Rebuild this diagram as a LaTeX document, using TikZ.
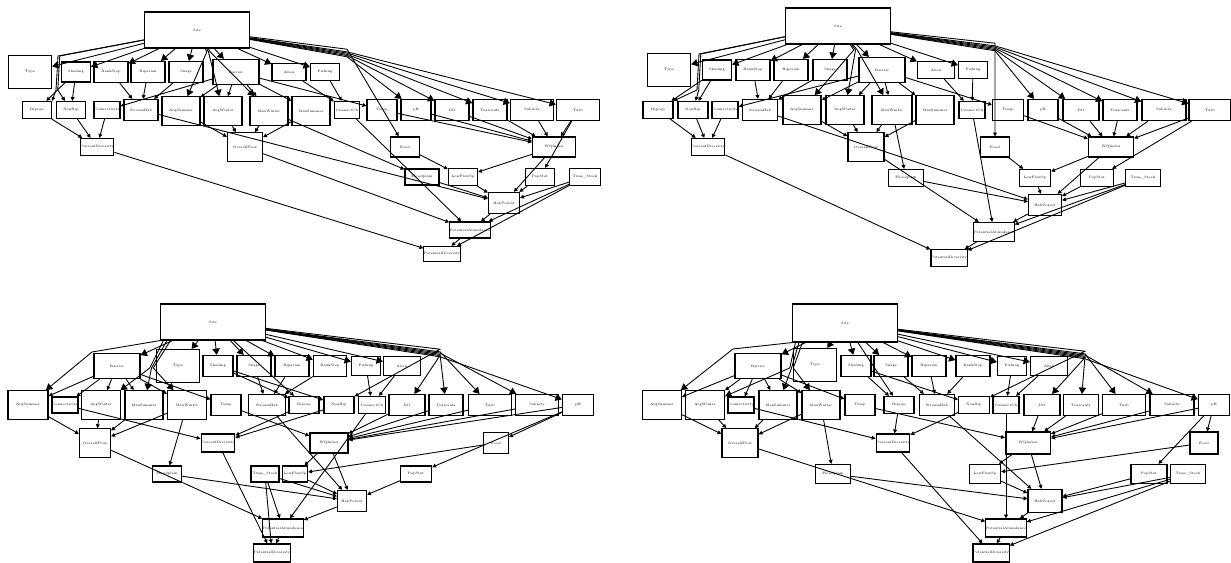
\documentclass[tikz,border=0pt]{standalone}
\usepackage{fontspec}
\usepackage{tikz}
\usetikzlibrary{arrows.meta}
\tikzset{
	var/.style     = {shape=rectangle, draw, line width=0.7pt,
		anchor=center, inner sep=0pt, align=center,
		font=\fontsize{1.9}{2.2}\selectfont,
		minimum width=0.68cm, minimum height=0.42cm},
	small/.style   = {var, minimum width=0.58cm, minimum height=0.34cm},
	flow/.style    = {var, minimum width=0.76cm, minimum height=0.57cm},
	wide/.style    = {var, minimum width=0.86cm},
	root/.style    = {var, minimum width=2.1cm, minimum height=0.72cm},
	typebox/.style = {var, minimum width=0.86cm, minimum height=0.66cm},
	barrier/.style = {var, minimum width=0.92cm, minimum height=0.5cm},
	edge/.style    = {line width=0.5pt, -{Triangle[length=2.2pt,width=2.2pt]}},
	sedge/.style   = {edge, -{Triangle[length=3.6pt,width=4.2pt]}}
}

\begin{document}
\begin{tikzpicture}[x=0.02cm, y=-0.02cm]
	\useasboundingbox (0,0) rectangle (1231,563);

	% top left layout
	\node [root]    at (197,30)  (tl-site) {Site};
	\node [typebox] at (30,72)   (tl-type) {Type};
	\node [small, minimum height=0.4cm] at (76,72) (tl-shading) {Shading};
	\node [var]     at (111,72)  (tl-bankstep) {BankStep};
	\node [var]     at (148,72)  (tl-riparian) {Riparian};
	\node [var]     at (186,72)  (tl-snags) {Snags};
	\node [barrier] at (236,72)  (tl-barrier) {Barrier};
	\node [var, minimum height=0.34cm] at (289,72) (tl-alien) {Alien};
	\node [small]   at (325,72)  (tl-fishing) {Fishing};
	\node [small]   at (37,110)  (tl-riprap) {Riprap};
	\node [small]   at (71,110)  (tl-nonrip) {NonRip};
	\node [small, minimum width=0.52cm] at (107,110) (tl-connectivity) {Connectivity};
	\node [var]     at (141,110) (tl-streamhab) {StreamHab};
	\node [flow]    at (181,111) (tl-avgsummer) {AvgSummer};
	\node [flow]    at (223,111) (tl-avgwinter) {AvgWinter};
	\node [flow]    at (269,111) (tl-maxwinter) {MaxWinter};
	\node [flow]    at (311,111) (tl-maxsummer) {MaxSummer};
	\node [small, minimum width=0.5cm] at (347,110) (tl-connectch) {ConnectCh};
	\node [var, minimum width=0.6cm] at (382,110) (tl-temp) {Temp};
	\node [var, minimum width=0.6cm] at (416,110) (tl-ph) {pH};
	\node [var]     at (452,110) (tl-do) {DO};
	\node [var]     at (490,110) (tl-toxicants) {Toxicants};
	\node [wide]    at (532,110) (tl-salinity) {Salinity};
	\node [wide]    at (578,110) (tl-turb) {Turb};
	\node [small, minimum width=0.54cm] at (97,147) (tl-currentdiv) {CurrentDiversity};
	\node [flow, minimum width=0.7cm] at (245,147) (tl-overallflow) {OverallFlow};
	\node [small, minimum height=0.4cm] at (405,147) (tl-food) {Food};
	\node [wide, minimum height=0.4cm] at (554,147) (tl-wqindex) {WQIndex};
	\node [var, minimum height=0.32cm] at (422,177) (tl-floodplain) {Floodplain};
	\node [small]   at (463,177) (tl-lowflow) {LowFlowSp};
	\node [small]   at (540,177) (tl-popstat) {PopStat};
	\node [small, minimum width=0.62cm] at (585,177) (tl-timestock) {Time\_Stock};
	\node [var, minimum width=0.62cm] at (504,203) (tl-habpotent) {HabPotent};
	\node [var, minimum width=0.78cm, minimum height=0.32cm] at (470,230) (tl-potabund) {PotentialAbundance};
	\node [small, minimum width=0.56cm, minimum height=0.3cm] at (442,254) (tl-potdiv) {PotentialDiversity};
	\coordinate (tl-rfan) at (347,58);
	\coordinate (tl-mfan) at (205,52);
	\coordinate (tl-lfan) at (58,56);
	\coordinate (tl-lfanb) at (56,90);

	% top right layout
	\node [root]    at (838,26)  (tr-site) {Site};
	\node [typebox] at (669,70)  (tr-type) {Type};
	\node [small, minimum height=0.4cm] at (717,70) (tr-shading) {Shading};
	\node [var]     at (753,70)  (tr-bankstep) {BankStep};
	\node [var]     at (791,70)  (tr-riparian) {Riparian};
	\node [var]     at (830,70)  (tr-snags) {Snags};
	\node [barrier] at (882,70)  (tr-barrier) {Barrier};
	\node [var, minimum width=0.74cm, minimum height=0.34cm] at (936,70) (tr-alien) {Alien};
	\node [small]   at (973,70)  (tr-fishing) {Fishing};
	\node [small, minimum width=0.6cm] at (658,110) (tr-riprap) {Riprap};
	\node [small, minimum width=0.6cm] at (693,110) (tr-nonrip) {NonRip};
	\node [small, minimum width=0.52cm] at (725,110) (tr-connectivity) {Connectivity};
	\node [var, minimum width=0.7cm] at (760,110) (tr-streamhab) {StreamHab};
	\node [flow]    at (802,110) (tr-avgsummer) {AvgSummer};
	\node [flow]    at (845,110) (tr-avgwinter) {AvgWinter};
	\node [flow, minimum width=0.8cm] at (892,110) (tr-maxwinter) {MaxWinter};
	\node [flow]    at (935,110) (tr-maxsummer) {MaxSummer};
	\node [small, minimum width=0.52cm] at (972,110) (tr-connectch) {ConnectCh};
	\node [var, minimum width=0.62cm] at (1008,110) (tr-temp) {Temp};
	\node [var, minimum width=0.6cm] at (1043,110) (tr-ph) {pH};
	\node [var, minimum width=0.72cm] at (1081,110) (tr-do) {DO};
	\node [var]     at (1120,110) (tr-toxicants) {Toxicants};
	\node [wide, minimum width=0.88cm] at (1164,110) (tr-salinity) {Salinity};
	\node [wide, minimum width=0.84cm] at (1210,110) (tr-turb) {Turb};
	\node [small]   at (708,147) (tr-currentdiv) {CurrentDiversity};
	\node [flow, minimum width=0.72cm] at (866,147) (tr-overallflow) {OverallFlow};
	\node [small, minimum height=0.4cm] at (995,147) (tr-food) {Food};
	\node [wide, minimum width=0.9cm, minimum height=0.4cm] at (1111,147) (tr-wqindex) {WQIndex};
	\node [var, minimum width=0.7cm, minimum height=0.34cm] at (906,178) (tr-floodplain) {Floodplain};
	\node [small, minimum width=0.62cm] at (1035,178) (tr-lowflow) {LowFlowSp};
	\node [small, minimum width=0.66cm] at (1097,178) (tr-popstat) {PopStat};
	\node [small, minimum width=0.7cm] at (1143,178) (tr-timestock) {Time\_Stock};
	\node [var, minimum width=0.66cm] at (1045,205) (tr-habpotent) {HabPotent};
	\node [var, minimum width=0.76cm, minimum height=0.38cm] at (994,232) (tr-potabund) {PotentialAbundance};
	\node [small]   at (949,258) (tr-potdiv) {PotentialDiversity};
	\coordinate (tr-rfan) at (995,52);
	\coordinate (tr-mfan) at (852,50);
	\coordinate (tr-lfan) at (699,54);
	\coordinate (tr-lfanb) at (697,90);

	% bottom left layout
	\node [root]    at (213,322) (bl-site) {Site};
	\node [barrier] at (117,366) (bl-barrier) {Barrier};
	\node [typebox] at (178,366) (bl-type) {Type};
	\node [small, minimum width=0.6cm, minimum height=0.42cm] at (218,366) (bl-shading) {Shading};
	\node [var]     at (254,366) (bl-snags) {Snags};
	\node [var]     at (292,366) (bl-riparian) {Riparian};
	\node [var, minimum width=0.66cm] at (330,366) (bl-bankstep) {BankStep};
	\node [small, minimum height=0.38cm] at (366,366) (bl-fishing) {Fishing};
	\node [var, minimum width=0.74cm, minimum height=0.38cm] at (402,366) (bl-alien) {Alien};
	\node [flow, minimum width=0.8cm] at (28,405) (bl-avgsummer) {AvgSummer};
	\node [small, minimum width=0.52cm, minimum height=0.32cm] at (65,405) (bl-connectivity) {Connectivity};
	\node [flow, minimum width=0.78cm] at (101,405) (bl-avgwinter) {AvgWinter};
	\node [flow]    at (144,405) (bl-maxsummer) {MaxSummer};
	\node [flow, minimum width=0.78cm] at (187,405) (bl-maxwinter) {MaxWinter};
	\node [var, minimum width=0.6cm] at (226,405) (bl-temp) {Temp};
	\node [var, minimum width=0.74cm] at (267,405) (bl-streamhab) {StreamHab};
	\node [small, minimum width=0.6cm] at (304,405) (bl-riprap) {Riprap};
	\node [small, minimum width=0.6cm] at (339,405) (bl-nonrip) {NonRip};
	\node [small, minimum width=0.54cm] at (372,405) (bl-connectch) {ConnectCh};
	\node [var, minimum width=0.72cm] at (407,405) (bl-do) {DO};
	\node [var]     at (446,405) (bl-toxicants) {Toxicants};
	\node [wide]    at (490,405) (bl-turb) {Turb};
	\node [wide]    at (537,405) (bl-salinity) {Salinity};
	\node [var, minimum width=0.62cm] at (578,405) (bl-ph) {pH};
	\node [flow, minimum width=0.62cm] at (95,443) (bl-overallflow) {OverallFlow};
	\node [small, minimum width=0.5cm, minimum height=0.36cm] at (218,443) (bl-currentdiv) {CurrentDiversity};
	\node [wide, minimum width=0.76cm, minimum height=0.4cm] at (329,443) (bl-wqindex) {WQIndex};
	\node [small, minimum width=0.5cm, minimum height=0.42cm] at (496,443) (bl-food) {Food};
	\node [small, minimum height=0.32cm] at (167,474) (bl-floodplain) {Floodplain};
	\node [small, minimum width=0.56cm, minimum height=0.32cm] at (265,474) (bl-timestock) {Time\_Stock};
	\node [small, minimum width=0.5cm, minimum height=0.32cm] at (295,474) (bl-lowflow) {LowFlowSp};
	\node [small, minimum width=0.62cm, minimum height=0.32cm] at (416,474) (bl-popstat) {PopStat};
	\node [var, minimum width=0.58cm] at (352,501) (bl-habpotent) {HabPotent};
	\node [small, minimum width=0.62cm, minimum height=0.36cm] at (283,528) (bl-potabund) {PotentialAbundance};
	\node [small, minimum width=0.48cm, minimum height=0.36cm] at (272,553) (bl-potdiv) {PotentialDiversity};
	\coordinate (bl-rfan) at (440,358);
	\coordinate (bl-mfan) at (148,368);
	\coordinate (bl-lfan) at (92,352);

	% bottom right layout
	\node [root, minimum height=0.76cm] at (845,323) (br-site) {Site};
	\node [barrier] at (758,366) (br-barrier) {Barrier};
	\node [typebox] at (815,365) (br-type) {Type};
	\node [small, minimum width=0.6cm, minimum height=0.42cm] at (856,366) (br-shading) {Shading};
	\node [var]     at (891,366) (br-snags) {Snags};
	\node [var]     at (929,366) (br-riparian) {Riparian};
	\node [var]     at (973,366) (br-bankstep) {BankStep};
	\node [small, minimum height=0.38cm] at (1012,366) (br-fishing) {Fishing};
	\node [var, minimum width=0.74cm, minimum height=0.38cm] at (1049,366) (br-alien) {Alien};
	\node [flow, minimum width=0.78cm] at (662,405) (br-avgsummer) {AvgSummer};
	\node [flow, minimum width=0.78cm] at (705,405) (br-avgwinter) {AvgWinter};
	\node [small, minimum width=0.52cm, minimum height=0.32cm] at (741,405) (br-connectivity) {Connectivity};
	\node [flow]    at (778,405) (br-maxsummer) {MaxSummer};
	\node [flow]    at (821,405) (br-maxwinter) {MaxWinter};
	\node [var, minimum width=0.6cm] at (860,405) (br-temp) {Temp};
	\node [small, minimum width=0.6cm] at (899,405) (br-riprap) {Riprap};
	\node [var, minimum width=0.7cm] at (937,405) (br-streamhab) {StreamHab};
	\node [small, minimum width=0.62cm] at (974,405) (br-nonrip) {NonRip};
	\node [small, minimum width=0.52cm] at (1006,405) (br-connectch) {ConnectCh};
	\node [var, minimum width=0.72cm] at (1042,405) (br-do) {DO};
	\node [var, minimum width=0.7cm] at (1081,405) (br-toxicants) {Toxicants};
	\node [wide]    at (1124,405) (br-turb) {Turb};
	\node [wide, minimum width=0.88cm] at (1172,405) (br-salinity) {Salinity};
	\node [var, minimum width=0.62cm] at (1214,405) (br-ph) {pH};
	\node [flow, minimum width=0.72cm] at (740,443) (br-overallflow) {OverallFlow};
	\node [small, minimum height=0.36cm] at (893,443) (br-currentdiv) {CurrentDiversity};
	\node [wide, minimum width=0.9cm, minimum height=0.44cm] at (1028,443) (br-wqindex) {WQIndex};
	\node [small, minimum width=0.56cm, minimum height=0.44cm] at (1204,443) (br-food) {Food};
	\node [var, minimum width=0.7cm, minimum height=0.38cm] at (833,474) (br-floodplain) {Floodplain};
	\node [small, minimum width=0.62cm, minimum height=0.38cm] at (985,474) (br-lowflow) {LowFlowSp};
	\node [small, minimum width=0.72cm, minimum height=0.38cm] at (1149,474) (br-popstat) {PopStat};
	\node [small, minimum width=0.7cm, minimum height=0.38cm] at (1188,474) (br-timestock) {Time\_Stock};
	\node [var, minimum width=0.68cm, minimum height=0.46cm] at (1045,501) (br-habpotent) {HabPotent};
	\node [small, minimum width=0.74cm, minimum height=0.36cm] at (1006,528) (br-potabund) {PotentialAbundance};
	\node [small, minimum width=0.56cm, minimum height=0.36cm] at (991,553) (br-potdiv) {PotentialDiversity};
	\coordinate (br-rfan) at (1085,360);
	\coordinate (br-mfan) at (788,368);
	\coordinate (br-lfan) at (733,349);

	% arcs every layout has
	\foreach \q in {tl,tr,bl,br} {
		\foreach \b in {type,shading,bankstep,riparian,snags,barrier,alien,fishing}
			\draw [sedge] (\q-site) -- (\q-\b);
		\foreach \a/\b in {shading/riprap, shading/nonrip, barrier/connectivity,
			barrier/avgsummer, barrier/avgwinter, barrier/maxwinter, barrier/maxsummer,
			barrier/temp, bankstep/streamhab, riparian/streamhab, snags/streamhab,
			alien/connectch, fishing/connectch, riprap/currentdiv, nonrip/currentdiv,
			connectivity/currentdiv, avgsummer/overallflow, avgwinter/overallflow,
			maxwinter/overallflow, maxsummer/overallflow, temp/wqindex, ph/wqindex,
			do/wqindex, toxicants/wqindex, salinity/wqindex, turb/wqindex,
			maxwinter/floodplain, food/lowflow, wqindex/lowflow, floodplain/habpotent,
			lowflow/habpotent, popstat/habpotent, timestock/habpotent,
			streamhab/habpotent, wqindex/habpotent, habpotent/potabund,
			overallflow/potabund, timestock/potabund, connectch/potabund,
			potabund/potdiv, currentdiv/potdiv, timestock/potdiv}
			\draw [edge] (\q-\a) -- (\q-\b);
		% the bundle from Site to the water quality nodes
		\foreach \b [count=\i] in {ph,do,toxicants,salinity,turb}
			\draw [sedge] (\q-site) -- ([yshift=\i*0.7pt]\q-rfan) -- (\q-\b);
	}

	% top layouts only
	\foreach \q in {tl,tr} {
		\foreach \b [count=\i] in {avgsummer,avgwinter,maxwinter}
			\draw [sedge] (\q-site) -- ([xshift=\i*1pt]\q-mfan) -- (\q-\b);
		\draw [edge] (\q-site) -- (\q-lfan) -- (\q-lfanb) -- (\q-riprap.north east);
		\draw [edge] (\q-site) -- ([xshift=1pt]\q-lfan) -- ([xshift=1pt]\q-lfanb) -- (\q-nonrip);
		\draw [edge] (\q-site) -- ([yshift=5pt]\q-rfan) -- (\q-food);
		\draw [edge] (\q-turb) -- (\q-popstat);
	}

	% bottom layouts only
	\foreach \q in {bl,br} {
		\foreach \b [count=\i] in {avgwinter,maxsummer,maxwinter}
			\draw [sedge] ([xshift=\i*2pt]\q-site.south west) -- ([xshift=\i*1pt]\q-mfan) -- (\q-\b);
		\draw [sedge] (\q-site.south west) -- (\q-lfan) -- (\q-avgsummer);
		\draw [edge] (\q-site) -- (\q-riprap);
		\draw [edge] (\q-site) -- ([yshift=5pt]\q-rfan) -- (\q-nonrip);
		\draw [edge] (\q-ph) -- (\q-food);
		\draw [edge] (\q-ph) -- (\q-popstat);
	}
\end{tikzpicture}
\end{document}
